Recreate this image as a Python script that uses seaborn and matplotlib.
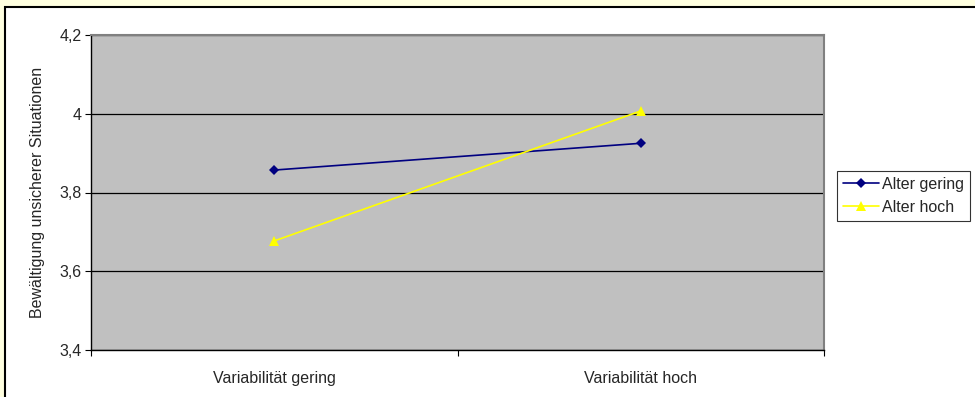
import matplotlib
matplotlib.use("Agg")
import matplotlib.pyplot as plt
import matplotlib.patches as mpatches
import pandas as pd
import seaborn as sns

categories = ["Variabilität gering", "Variabilität hoch"]
alter_gering = [3.857, 3.925]
alter_hoch = [3.677, 4.007]
series_names = ["Alter gering", "Alter hoch"]
y_ticks = [3.4, 3.6, 3.8, 4.0, 4.2]
y_tick_labels = ["3,4", "3,6", "3,8", "4", "4,2"]

df = pd.DataFrame({
    "x": list(range(len(categories))) * 2,
    "y": alter_gering + alter_hoch,
    "Serie": [series_names[0]] * len(categories) + [series_names[1]] * len(categories),
})

sns.set_style("white")
plt.rcParams["font.family"] = ["Liberation Sans", "DejaVu Sans"]
fs = 11.5

fig = plt.figure(figsize=(9.75, 3.97), dpi=100)
fig.patch.set_facecolor("#FFFFE0")
# white chart area with black frame
frame = mpatches.Rectangle((5 / 975, -0.05), 1.05, 1 - 7 / 397 + 0.05,
                           transform=fig.transFigure, facecolor="white",
                           edgecolor="black", linewidth=1.5, zorder=-10)
fig.patches.append(frame)

ax = fig.add_axes([91 / 975, 1 - 350 / 397, 733 / 975, 315 / 397])
ax.set_zorder(1)
ax.set_facecolor("#C0C0C0")

palette = {series_names[0]: "#000080", series_names[1]: "#FFFF00"}
sns.lineplot(data=df, x="x", y="y", hue="Serie", style="Serie",
             markers={series_names[0]: "D", series_names[1]: "^"},
             dashes=False, palette=palette, ax=ax, linewidth=1.2,
             markersize=5.5, markeredgewidth=0)
for ln in ax.lines:
    if ln.get_marker() == "^":
        ln.set_markersize(7.5)

ax.set_xlim(-0.5, 1.5)
ax.set_ylim(3.4, 4.2)
ax.set_yticks(y_ticks)
ax.set_yticklabels(y_tick_labels, fontsize=fs)
ax.set_xticks([-0.5, 0.5, 1.5])
ax.set_xticklabels([])
ax.set_xticks(range(len(categories)), minor=True)
ax.set_xticklabels(categories, minor=True, fontsize=fs)
ax.tick_params(axis="x", which="minor", length=0, pad=15)
ax.tick_params(axis="x", which="major", length=4, direction="out", color="black", bottom=True)
ax.tick_params(axis="y", length=4, direction="out", color="black", left=True, pad=3)
ax.yaxis.grid(True, color="black", linewidth=0.9)
ax.set_axisbelow(True)
for s in ["left", "bottom"]:
    ax.spines[s].set_color("black")
    ax.spines[s].set_linewidth(1.0)
for s in ["top", "right"]:
    ax.spines[s].set_color("#808080")
    ax.spines[s].set_linewidth(1.5)

ax.set_xlabel("")
ax.set_ylabel("Bewältigung unsicherer Situationen", fontsize=fs, labelpad=10)

handles, labels = ax.get_legend_handles_labels()
ax.get_legend().remove()
for h in handles:
    if h.get_marker() == "^":
        h.set_markersize(7.5)
leg = fig.legend(handles, labels, loc="center left",
                 bbox_to_anchor=(837 / 975, 1 - 196 / 397), fontsize=fs,
                 frameon=True, fancybox=False, edgecolor="black",
                 handlelength=2.2, handletextpad=0.2, borderpad=0.4,
                 labelspacing=0.5, borderaxespad=0)
leg.get_frame().set_linewidth(0.8)

fig.savefig("out.png", dpi=100, facecolor=fig.get_facecolor())
